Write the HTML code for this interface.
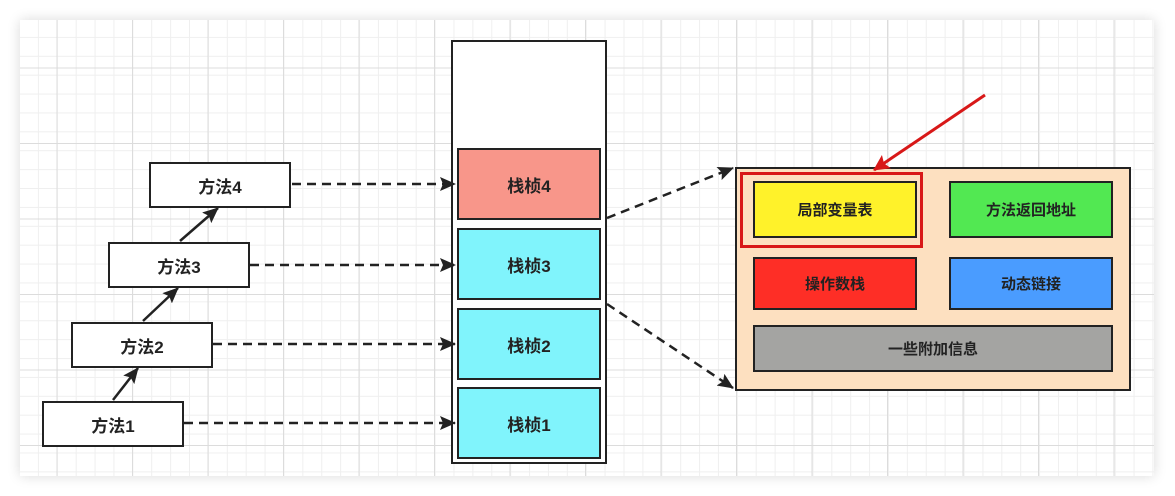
<!DOCTYPE html><html><head><meta charset="utf-8"><style>
body{margin:0;width:1175px;height:496px;background:#fff;overflow:hidden;font-family:"Liberation Sans","Noto Sans CJK SC",sans-serif}
.canvas{position:absolute;left:20px;top:20px;width:1134px;height:456px;
background-color:#fff;
background-image:linear-gradient(#dcdcdc 1px,transparent 1px),linear-gradient(90deg,#dcdcdc 1px,transparent 1px),linear-gradient(#efefef 1px,transparent 1px),linear-gradient(90deg,#efefef 1px,transparent 1px);
background-size:75.5px 75.5px,75.5px 75.5px,18.9px 18.9px,18.9px 18.9px;
background-position:-39px -28px,-39px -28px,-1px -2px,-1px -2px;
box-shadow:0 0 12px rgba(0,0,0,.15)}
.b{position:absolute;box-sizing:border-box;border:2px solid #222;display:flex;align-items:center;justify-content:center;font-weight:bold;font-size:17px;color:#222}
.s{font-size:15px}
</style></head><body>
<div class="canvas"></div>
<div class="b" style="left:451px;top:40px;width:156px;height:424px;background:#fff"></div>
<div class="b" style="left:457px;top:148px;width:144px;height:72px;background:#f8968a">栈桢4</div>
<div class="b" style="left:457px;top:228px;width:144px;height:72px;background:#80f4fc">栈桢3</div>
<div class="b" style="left:457px;top:308px;width:144px;height:72px;background:#80f4fc">栈桢2</div>
<div class="b" style="left:457px;top:387px;width:144px;height:72px;background:#80f4fc">栈桢1</div>
<div class="b" style="left:149px;top:162px;width:142px;height:46px;background:#fff">方法4</div>
<div class="b" style="left:108px;top:242px;width:142px;height:46px;background:#fff">方法3</div>
<div class="b" style="left:71px;top:322px;width:142px;height:46px;background:#fff">方法2</div>
<div class="b" style="left:42px;top:401px;width:142px;height:46px;background:#fff">方法1</div>
<div class="b" style="left:735px;top:167px;width:396px;height:224px;background:#fde0c0"></div>
<div style="position:absolute;left:740px;top:172px;width:183px;height:76px;box-sizing:border-box;border:3px solid #d81818"></div>
<div class="b s" style="left:753px;top:181px;width:164px;height:57px;background:#fff22a">局部变量表</div>
<div class="b s" style="left:949px;top:181px;width:164px;height:57px;background:#52e852">方法返回地址</div>
<div class="b s" style="left:753px;top:257px;width:164px;height:53px;background:#fe2e26">操作数栈</div>
<div class="b s" style="left:949px;top:257px;width:164px;height:53px;background:#4a9cff">动态链接</div>
<div class="b s" style="left:753px;top:325px;width:360px;height:47px;background:#a4a4a2">一些附加信息</div>
<svg width="1175" height="496" style="position:absolute;left:0;top:0">
<defs><marker id="a" markerWidth="16" markerHeight="14" refX="15" refY="7" orient="auto" markerUnits="userSpaceOnUse" viewBox="0 0 16 14"><path d="M0,0L16,7L0,14L3,7Z" fill="#222"/></marker>
<marker id="r" markerWidth="16" markerHeight="16" refX="15" refY="8" orient="auto" markerUnits="userSpaceOnUse" viewBox="0 0 16 16"><path d="M0,0L16,8L0,16L3,8Z" fill="#d81818"/></marker></defs>
<g stroke="#222" stroke-width="2.5" fill="none" stroke-dasharray="9,6">
<line x1="292" y1="184" x2="455" y2="184" marker-end="url(#a)"/>
<line x1="250" y1="265" x2="455" y2="265" marker-end="url(#a)"/>
<line x1="213" y1="344" x2="455" y2="344" marker-end="url(#a)"/>
<line x1="184" y1="423" x2="455" y2="423" marker-end="url(#a)"/>
<line x1="607" y1="218" x2="733" y2="168" marker-end="url(#a)"/>
<line x1="607" y1="304" x2="733" y2="388" marker-end="url(#a)"/>
</g>
<g stroke="#222" stroke-width="2.5">
<line x1="113" y1="400" x2="138" y2="368" marker-end="url(#a)"/>
<line x1="143" y1="321" x2="178" y2="288" marker-end="url(#a)"/>
<line x1="180" y1="241" x2="218" y2="208" marker-end="url(#a)"/>
</g>
<line x1="985" y1="95" x2="874" y2="170" stroke="#d81818" stroke-width="3" marker-end="url(#r)"/>
</svg>
</body></html>
